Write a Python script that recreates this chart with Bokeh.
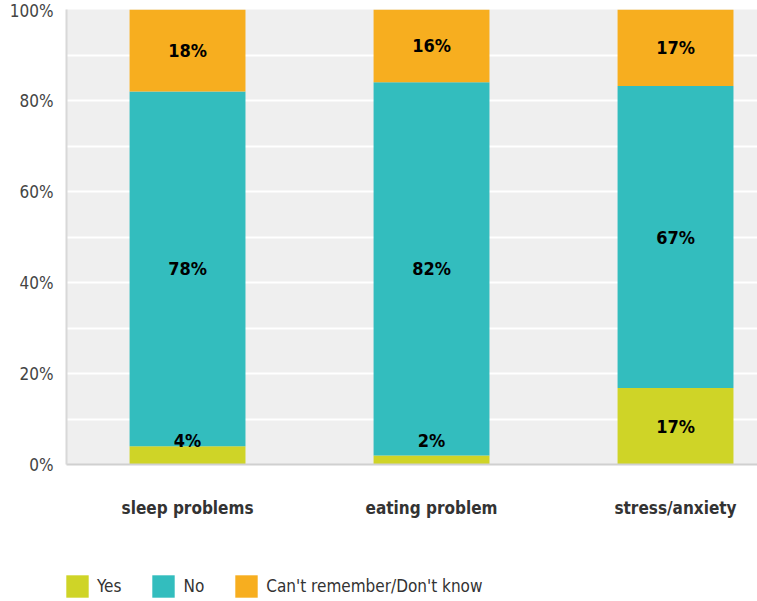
from bokeh.plotting import figure
from bokeh.layouts import column
from bokeh.models import (ColumnDataSource, Range1d, FixedTicker, PrintfTickFormatter,
                          Legend, LegendItem)
from bokeh.core.properties import value
from bokeh.embed import file_html
from bokeh.resources import INLINE

categories = ["sleep problems", "eating problem", "stress/anxiety"]
yes = [4, 2, 17]
no = [78, 82, 67]
dont_know = [18, 16, 17]
series_names = ["Yes", "No", "Can't remember/Don't know"]
colors = ["#cfd427", "#33bdbe", "#f7ae1f"]
y_ticks = [0, 20, 40, 60, 80, 100]
grid_ticks = [10, 20, 30, 40, 50, 60, 70, 80, 90]

FONT = "DejaVu Sans Condensed"

# percent stacking (normalised to the total of each category)
xs = list(range(len(categories)))
tot = [a + b + c for a, b, c in zip(yes, no, dont_know)]
yes_p = [a / t * 100 for a, t in zip(yes, tot)]
no_p = [b / t * 100 for b, t in zip(no, tot)]
dk_p = [c / t * 100 for c, t in zip(dont_know, tot)]

src = ColumnDataSource(dict(x=xs, yes=yes_p, no=no_p, dk=dk_p))

p = figure(width=757, height=524, output_backend="svg", toolbar_location=None,
           x_range=Range1d(-0.496, 2.336), y_range=Range1d(0, 100),
           min_border_left=66, min_border_right=0, min_border_top=9,
           min_border_bottom=60,
           background_fill_color="#efefef", border_fill_color="white",
           outline_line_color=None)

rs = p.vbar_stack(["yes", "no", "dk"], x="x", width=0.475, color=colors,
                  line_color=None, source=src)

# data labels
lab_x, lab_y, lab_t = [], [], []
for i in xs:
    base = 0.0
    for vals, raw in ((yes_p, yes), (no_p, no), (dk_p, dont_know)):
        mid = base + vals[i] / 2
        lab_x.append(i)
        lab_y.append(max(mid, 5.3))  # small segments: label kept inside plot
        lab_t.append(f"{raw[i]}%")
        base += vals[i]
p.text(x=lab_x, y=lab_y, text=lab_t, text_align="center", text_baseline="middle",
       text_font=value(FONT), text_font_style="bold", text_font_size="18px",
       text_color="#000000")

# axes
p.yaxis.ticker = FixedTicker(ticks=y_ticks)
p.yaxis.formatter = PrintfTickFormatter(format="%d%%")
p.yaxis.major_tick_line_color = None
p.yaxis.minor_tick_line_color = None
p.yaxis.axis_line_color = "#d8d8d8"
p.yaxis.axis_line_width = 2
p.yaxis.major_label_text_font = FONT
p.yaxis.major_label_text_font_size = "17px"
p.yaxis.major_label_text_color = "#444444"
p.yaxis.major_label_standoff = 7

p.xaxis.ticker = FixedTicker(ticks=xs)
p.xaxis.major_label_overrides = {i: c for i, c in zip(xs, categories)}
p.xaxis.major_tick_line_color = None
p.xaxis.minor_tick_line_color = None
p.xaxis.axis_line_color = "#d0d0d0"
p.xaxis.axis_line_width = 2
p.xaxis.major_label_text_font = FONT
p.xaxis.major_label_text_font_style = "bold"
p.xaxis.major_label_text_font_size = "17px"
p.xaxis.major_label_text_color = "#333333"
p.xaxis.major_label_standoff = 27

p.xgrid.grid_line_color = None
p.ygrid.ticker = FixedTicker(ticks=grid_ticks)
p.ygrid.grid_line_color = "white"
p.ygrid.grid_line_width = 2

# legend strip below the chart (zero-size proxy glyphs only carry the colours)
lg = figure(width=757, height=77, output_backend="svg", toolbar_location=None,
            x_range=Range1d(0, 1), y_range=Range1d(0, 1),
            x_axis_location=None, y_axis_location=None,
            min_border_left=0, min_border_right=0, min_border_top=0, min_border_bottom=0,
            outline_line_color=None, background_fill_color="white")
lg.grid.visible = False
proxies = [lg.vbar(x=[0], top=[0], width=0, fill_color=c, line_color=None) for c in colors]
legend = Legend(items=[LegendItem(label=n, renderers=[r]) for n, r in zip(series_names, proxies)],
                orientation="horizontal", location=(-3, 1),
                glyph_width=28, glyph_height=28, label_standoff=6, spacing=28,
                padding=0, margin=0, border_line_color=None, background_fill_alpha=0,
                label_text_font=FONT, label_text_font_size="17px", label_text_color="#333333")
lg.add_layout(legend, "center")

layout = column(p, lg, spacing=0)
open("out.html", "w").write(file_html(layout, INLINE))
